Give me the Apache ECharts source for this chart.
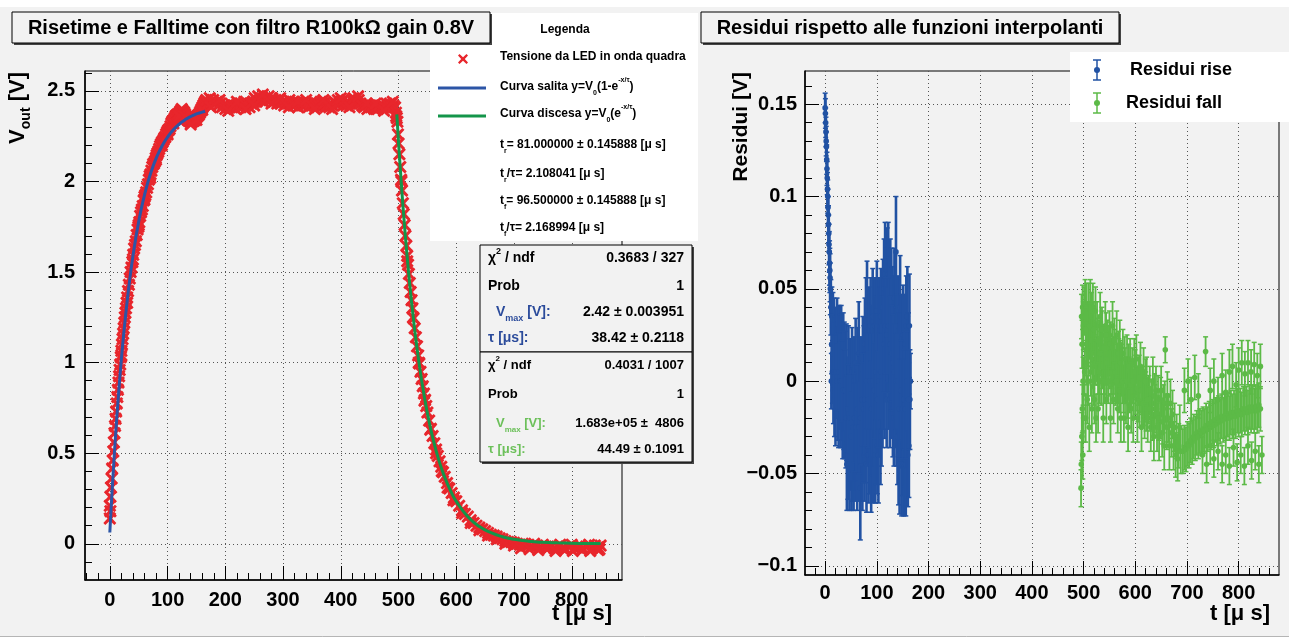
<!DOCTYPE html>
<html><head><meta charset="utf-8">
<script src="https://cdn.jsdelivr.net/npm/echarts@6/dist/echarts.min.js"></script>
<style>html,body{margin:0;padding:0;background:#f2f2f2}#c{width:1289px;height:643px}</style>
</head><body><div id="c"></div>
<script>
// ---------- DATA ----------
const xTicks = [0,100,200,300,400,500,600,700,800];
const yTicksLeft = [0,0.5,1,1.5,2,2.5];
const yTicksRight = [-0.1,-0.05,0,0.05,0.1,0.15];

// measured LED voltage [t (us), V]
const ledData = [
[0,0.14],[0,0.21],[1,0.18],[1,0.26],[2,0.31],[3,0.36],[4,0.415],[5,0.46],[6,0.51],[7,0.56],[8,0.61],[9,0.65],[10,0.69],[11,0.73],[12,0.775],[13,0.81],[14,0.85],[15,0.89],[16,0.925],[17,0.96],[18,0.99],[19,1.03],[20,1.065],[21,1.10],[22,1.13],[23,1.16],[24,1.19],[25,1.22],[26,1.25],[27,1.275],[28,1.30],[29,1.33],[30,1.36],[31.5,1.395],[33,1.43],[34.5,1.465],[36,1.50],[37.5,1.525],[39,1.555],[40.5,1.595],[42,1.63],[43.5,1.65],[45,1.67],[46.5,1.705],[48,1.735],[49.5,1.75],[51,1.775],[52.5,1.81],[54,1.83],[55.5,1.845],[57,1.865],[58.5,1.895],[60,1.915],[61.5,1.925],[63,1.94],[64.5,1.965],[66,1.985],[67.5,2.01],[69,2.03],[70.5,2.04],[72,2.06],[73.5,2.08],[75,2.095],[76.5,2.10],[78,2.11],[79.5,2.13],[81,2.145],[82.5,2.155],[84,2.165],[85.5,2.18],[87,2.195],[88.5,2.205],[90,2.215],[91.5,2.22],[93,2.23],[94.5,2.24],[96,2.245],[97.5,2.26],[99,2.27],[100.5,2.28],[102,2.285],[103.5,2.29],[105,2.305],[106.5,2.32],[108,2.33],[109.5,2.335],[111,2.34],[112.5,2.35],[114,2.36],[115.5,2.365],[117,2.37],[118.5,2.37],[120,2.375],[121.5,2.385],[123,2.39],[124.5,2.40],[126,2.39],[127.5,2.385],[129,2.38],[130.5,2.37],[132,2.355],[133.5,2.345],[135,2.34],[136.5,2.335],[138,2.335],[139.5,2.33],[141,2.33],[142.5,2.33],[144,2.335],[145.5,2.335],[147,2.34],[148.5,2.35],[150,2.355],[151.5,2.36],[153,2.365],[154.5,2.37],[156,2.38],[157.5,2.39],[159,2.40],[160.5,2.41],[162,2.42],[163.5,2.43],[165,2.44],
[20,1.04],[30,1.33],[40,1.57],[50,1.76],[60,1.90],[70,2.02],[80,2.12],[90,2.20],[100,2.26],[110,2.32],[120,2.36],[130,2.36],[140,2.315],[150,2.34],[160,2.395],
[167,2.45],[170,2.43],[173,2.46],[176,2.44],[179,2.45],[182,2.43],[185,2.44],[188,2.42],[191,2.43],[194,2.41],[197,2.42],[200,2.40],[203,2.42],[206,2.41],[209,2.43],[212,2.41],[215,2.42],[218,2.40],[221,2.42],[224,2.41],[227,2.43],[230,2.42],[233,2.44],[236,2.42],[239,2.43],[242,2.41],[245,2.43],[248,2.44],[251,2.46],[254,2.44],[257,2.47],[260,2.45],[263,2.46],[266,2.44],[269,2.46],[272,2.45],[275,2.47],[278,2.45],[281,2.46],[284,2.44],[287,2.45],[290,2.43],[293,2.45],[296,2.43],[299,2.44],[302,2.42],[305,2.44],[308,2.43],[311,2.45],[314,2.43],[317,2.44],[320,2.42],[323,2.43],[326,2.41],[329,2.43],[332,2.42],[335,2.44],[338,2.42],[341,2.43],[344,2.41],[347,2.43],[350,2.42],[353,2.44],[356,2.42],[359,2.43],[362,2.42],[365,2.44],[368,2.42],[371,2.43],[374,2.41],[377,2.42],[380,2.41],[383,2.43],[386,2.42],[389,2.44],[392,2.43],[395,2.45],[398,2.43],[401,2.44],[404,2.42],[407,2.43],[410,2.42],[413,2.44],[416,2.43],[419,2.45],[422,2.46],[425,2.44],[428,2.43],[431,2.45],[434,2.43],[437,2.42],[440,2.41],[443,2.42],[446,2.40],[449,2.42],[452,2.41],[455,2.42],[458,2.40],[461,2.41],[464,2.40],[467,2.42],[470,2.41],[473,2.42],[476,2.41],[479,2.43],[482,2.42],[485,2.43],[488,2.41],[491,2.42],[494,2.41],
[175,2.41],[190,2.45],[205,2.39],[220,2.44],[235,2.40],[250,2.42],[265,2.48],[280,2.43],[295,2.46],[310,2.41],[325,2.44],[340,2.45],[355,2.40],[370,2.45],[385,2.40],[400,2.46],[415,2.41],[430,2.47],[445,2.43],[460,2.43],[475,2.39],[490,2.44],
[495.5,2.38],[496,2.36],[497,2.35],[498,2.33],[499,2.26],[500,2.21],[501.5,2.15],[503,2.08],[504.5,2.01],[506,1.95],[507.5,1.88],[509,1.82],[510.5,1.76],[512,1.70],[513.5,1.645],[515,1.59],[516.5,1.54],[518,1.49],[519.5,1.44],[521,1.39],[522.5,1.345],[524,1.30],[526,1.245],[528,1.19],[530,1.14],[532,1.09],[534,1.04],[536,0.995],[538,0.95],[540,0.91],[542,0.87],[544,0.83],[546,0.795],[548,0.76],[550,0.725],[553,0.68],[556,0.635],[559,0.595],[562,0.555],[565,0.52],[568,0.485],[571,0.455],[574,0.425],[577,0.395],[580,0.37],[584,0.335],[588,0.305],[592,0.28],[596,0.255],[600,0.235],[605,0.21],[610,0.185],[615,0.165],[620,0.15],[625,0.13],[630,0.115],[635,0.10],[640,0.09],[645,0.08],[650,0.07],[655,0.06],[660,0.05],[665,0.045],[670,0.04],[675,0.03],[680,0.025],[685,0.015],[690,0.01],[695,0.01],[700,0.005],
[505,2.00],[515,1.56],[525,1.25],[535,1.00],[545,0.79],[555,0.63],[565,0.50],[575,0.40],[585,0.31],[595,0.24],[610,0.17],[625,0.115],[640,0.075],[655,0.045],[670,0.025],[685,0.0],[700,-0.01],
[705,0.0],[710,-0.005],[715,0.0],[720,-0.01],[725,-0.005],[730,-0.015],[735,0.0],[740,-0.01],[745,-0.02],[750,-0.005],[755,-0.015],[760,-0.02],[765,-0.01],[770,-0.025],[775,-0.015],[780,-0.005],[785,-0.02],[790,-0.03],[795,-0.015],[800,-0.005],[805,-0.025],[810,-0.02],[815,-0.01],[820,-0.03],[825,-0.015],[830,-0.005],[835,-0.025],[840,-0.01],[845,-0.02],[848,-0.03],[850,-0.01],
[712,-0.025],[727,-0.03],[742,-0.035],[757,-0.03],[772,-0.04],[787,-0.035],[802,-0.04],[817,-0.035],[832,-0.04],[846,-0.035]
];

// rise fit curve
const riseFit = [[0,0.062],[2.5,0.211],[5,0.350],[7.5,0.480],[10,0.603],[15,0.824],[20,1.019],[25,1.190],[30,1.340],[35,1.472],[40,1.588],[45,1.689],[50,1.778],[55,1.857],[60,1.925],[65,1.986],[70,2.039],[75,2.085],[80,2.126],[85,2.162],[90,2.193],[95,2.221],[100,2.245],[105,2.267],[110,2.285],[115,2.302],[120,2.316],[125,2.329],[130,2.340],[135,2.350],[140,2.358],[145,2.366],[150,2.373],[155,2.378],[160,2.383],[165,2.388]];

// fall fit curve
const fallFit = [[497,2.371],[500,2.216],[505,1.981],[510,1.770],[515,1.582],[520,1.414],[525,1.264],[530,1.129],[540,0.902],[550,0.720],[560,0.575],[570,0.459],[580,0.367],[590,0.293],[600,0.234],[620,0.149],[640,0.095],[660,0.061],[680,0.039],[700,0.025],[725,0.014],[750,0.008],[775,0.005],[800,0.003],[825,0.0015],[850,0.001]];

// residuals of rise: [t, residual, error]
const riseRes = [
[0,0.148,0.008],[0.5,0.145,0.008],[1,0.14,0.008],[1.5,0.135,0.008],[2,0.13,0.008],[2.5,0.127,0.008],[3,0.12,0.008],[3.5,0.115,0.009],[4,0.11,0.009],[4.5,0.104,0.009],[5,0.1,0.009],[5.5,0.094,0.01],[6,0.09,0.01],[6.5,0.085,0.01],[7,0.08,0.01],[7.5,0.074,0.011],[8,0.07,0.011],[8.5,0.064,0.012],[9,0.06,0.012],[9.5,0.056,0.013],[10,0.05,0.014],
[11,0.04,0.015],[12,0.0,0.015],[13,0.035,0.016],[14,0.005,0.017],[15,0.03,0.018],[16,-0.005,0.018],
[17,0.025,0.02],[18,-0.01,0.02],[19,0.015,0.02],[20,-0.015,0.02],[21,0.02,0.02],[22,0.0,0.02],[23,0.025,0.02],[24,-0.012,0.02],[25,0.01,0.02],[26,-0.015,0.021],[27,0.02,0.021],[28,-0.005,0.021],[29,0.015,0.021],[30,-0.015,0.021],[31,0.02,0.021],[32,-0.01,0.022],[33,0.005,0.022],[34,-0.02,0.022],[35,0.015,0.022],[36,-0.015,0.022],[37,0.01,0.022],[38,-0.02,0.022],[39,0.005,0.022],[40,-0.025,0.022],
[41,0.008,0.023],[42,-0.045,0.025],[43,-0.01,0.023],[44,-0.04,0.024],[45,0.005,0.025],[46,-0.03,0.023],[47,-0.045,0.025],[48,0.0,0.023],[49,-0.035,0.024],[50,-0.02,0.023],[51,-0.045,0.025],[52,0.005,0.024],[53,-0.04,0.025],[54,-0.015,0.023],[55,-0.045,0.025],[56,0.0,0.024],[57,-0.03,0.024],[58,-0.04,0.025],[59,0.01,0.024],[60,-0.035,0.024],[61,-0.02,0.024],[62,-0.045,0.025],[63,0.005,0.024],[64,-0.03,0.024],[65,0.015,0.028],[66,-0.04,0.025],[67,-0.01,0.024],[68,-0.058,0.028],[69,0.0,0.024],[70,-0.04,0.025],[71,-0.02,0.024],[72,-0.045,0.025],[73,0.01,0.025],[74,-0.03,0.025],[75,0.005,0.025],
[76,-0.04,0.025],[77,0.02,0.025],[78,-0.03,0.025],[79,0.03,0.026],[80,-0.045,0.026],[81,0.038,0.027],[82,-0.02,0.025],[83,0.01,0.025],[84,-0.04,0.026],[85,0.025,0.026],[86,-0.035,0.026],[87,0.0,0.025],[88,0.03,0.026],[89,-0.045,0.026],[90,0.015,0.026],[91,-0.025,0.026],[92,0.035,0.026],[93,-0.04,0.026],[94,0.005,0.026],[95,-0.02,0.026],[96,0.03,0.026],[97,-0.04,0.026],[98,0.02,0.026],[99,-0.03,0.026],[100,0.038,0.027],[101,-0.035,0.026],[102,0.01,0.026],[103,-0.04,0.026],[104,0.03,0.026],[105,-0.015,0.026],[106,0.025,0.026],[107,-0.03,0.026],[108,0.035,0.026],[109,-0.02,0.026],[110,0.02,0.026],
[111,-0.01,0.026],[112,0.04,0.026],[113,0.0,0.026],[114,0.05,0.027],[115,-0.005,0.026],[116,0.058,0.028],[117,0.015,0.026],[118,0.045,0.027],[119,-0.01,0.026],[120,0.055,0.028],[121,0.02,0.026],[122,0.058,0.028],[123,0.0,0.026],[124,0.04,0.027],[125,-0.01,0.026],[126,0.05,0.027],[127,0.01,0.026],[128,0.045,0.027],[129,-0.005,0.026],[130,0.035,0.027],[131,-0.015,0.026],[132,0.03,0.027],[133,-0.02,0.026],[134,0.045,0.027],[135,-0.01,0.026],[136,0.025,0.027],[137,0.07,0.03],[138,-0.02,0.026],[139,0.02,0.027],[140,-0.03,0.026],
[141,0.03,0.027],[142,-0.04,0.027],[143,0.01,0.027],[144,-0.045,0.027],[145,0.04,0.028],[146,-0.02,0.027],[147,0.02,0.027],[148,-0.045,0.028],[149,0.01,0.027],[150,-0.035,0.027],[151,0.025,0.027],[152,-0.045,0.028],[153,0.0,0.027],[154,-0.03,0.027],[155,0.02,0.027],[156,-0.045,0.028],[157,0.03,0.027],[158,-0.02,0.027],[159,0.035,0.027],[160,-0.04,0.028],[161,0.01,0.027],[162,-0.035,0.028],[163,0.03,0.028],[164,-0.01,0.027],[165,0.0,0.015],
[12.5,0.02,0.016],[14.5,0.015,0.017],[17.5,0.005,0.02],[20.5,0.005,0.02],[23.5,0.0,0.02],[26.5,0.005,0.021],[29.5,0.0,0.021],[32.5,0.0,0.022],[35.5,-0.005,0.022],[38.5,-0.005,0.022],[41.5,-0.02,0.023],[44.5,-0.015,0.024],[47.5,-0.02,0.024],[50.5,-0.03,0.024],[53.5,-0.025,0.024],[56.5,-0.02,0.024],[59.5,-0.025,0.024],[62.5,-0.015,0.024],[65.5,-0.025,0.025],[68.5,-0.02,0.025],[71.5,-0.01,0.025],[74.5,-0.015,0.025],[77.5,-0.01,0.025],[80.5,0.0,0.026],[83.5,-0.01,0.026],[86.5,0.0,0.026],[89.5,-0.015,0.026],[92.5,0.0,0.026],[95.5,-0.005,0.026],[98.5,0.005,0.026],[101.5,-0.01,0.026],[104.5,0.0,0.026],[107.5,0.005,0.026],[110.5,0.0,0.026],[113.5,0.02,0.026],[116.5,0.03,0.026],[119.5,0.025,0.026],[122.5,0.03,0.026],[125.5,0.02,0.026],[128.5,0.015,0.026],[131.5,0.01,0.026],[134.5,0.005,0.026],[137.5,0.0,0.026],[140.5,0.0,0.026],[143.5,-0.015,0.027],[146.5,-0.005,0.027],[149.5,-0.015,0.027],[152.5,-0.01,0.027],[155.5,-0.015,0.027],[158.5,0.0,0.027],[161.5,-0.01,0.027]
];

// residuals of fall: [t, residual, error]
const fallRes = [
[495,-0.058,0.01],[495.5,-0.045,0.012],[496,0.035,0.012],[496.5,-0.03,0.013],[497,0.02,0.013],[497.5,-0.015,0.013],[498,0.04,0.012],[498.5,-0.04,0.013],[499,0.0,0.013],[499.5,0.03,0.013],[500,-0.02,0.013],[501,0.038,0.013],[502,0.005,0.013],
[503,0.042,0.013],[504,-0.02,0.013],[505,0.02,0.013],[506,0.04,0.013],[507,-0.01,0.013],[508,0.03,0.013],[509,0.0,0.013],[510,0.04,0.013],[511,-0.025,0.013],[512,0.025,0.013],[513,0.042,0.013],[514,0.005,0.013],[515,0.035,0.013],[516,-0.015,0.013],[517,0.02,0.013],[518,0.04,0.013],[519,0.0,0.013],[520,0.03,0.013],[521,-0.01,0.013],[522,0.015,0.013],[523,0.038,0.013],[524,-0.02,0.013],
[526,0.03,0.013],[527,0.01,0.012],[528,-0.015,0.013],[530,0.02,0.013],[531,0.0,0.012],[532,0.035,0.013],[534,0.0,0.013],[535,0.012,0.012],[536,0.025,0.013],[538,-0.02,0.013],[539,0.005,0.012],[540,0.015,0.013],[542,0.03,0.013],[543,0.01,0.012],[544,-0.01,0.013],[546,0.02,0.013],[547,0.015,0.012],[548,0.005,0.013],[550,0.025,0.013],[551,0.008,0.012],[552,-0.02,0.013],[554,0.01,0.013],[555,0.0,0.012],[556,0.03,0.013],[558,-0.01,0.013],[559,0.01,0.012],[560,0.015,0.013],[562,0.0,0.013],[563,0.012,0.012],[564,0.025,0.013],[566,-0.015,0.013],[567,0.0,0.012],[568,0.01,0.013],[570,0.02,0.013],[571,0.005,0.012],[572,-0.02,0.013],[574,0.005,0.013],
[576,0.015,0.013],[578,-0.02,0.013],[580,0.005,0.013],[582,-0.01,0.013],[584,0.012,0.013],[586,-0.025,0.013],[588,0.0,0.013],[590,0.01,0.013],[592,-0.015,0.013],[594,0.005,0.013],[596,-0.02,0.013],[598,0.01,0.013],[600,-0.005,0.013],[602,0.012,0.013],[604,-0.02,0.013],[606,0.0,0.013],[608,-0.012,0.013],[610,0.008,0.013],[612,-0.025,0.013],[614,-0.005,0.013],[616,0.005,0.013],[618,-0.018,0.013],[620,-0.008,0.013],[622,0.0,0.013],[624,-0.02,0.013],[626,-0.01,0.013],
[628,-0.005,0.013],[630,-0.025,0.013],[632,-0.012,0.013],[634,0.0,0.013],[636,-0.03,0.013],[638,-0.015,0.013],[640,-0.005,0.013],[642,-0.025,0.013],[644,-0.01,0.013],[646,-0.03,0.013],[648,-0.018,0.013],[650,-0.005,0.013],[652,-0.028,0.013],[654,-0.015,0.013],[656,-0.035,0.013],[658,0.017,0.007],[660,-0.02,0.013],[662,-0.008,0.013],
[664,-0.02,0.013],[666,-0.035,0.013],[668,-0.012,0.013],[670,-0.028,0.013],[672,-0.018,0.013],[674,-0.035,0.013],[676,-0.025,0.013],[678,-0.04,0.012],[680,-0.03,0.012],[682,-0.042,0.012],[684,-0.035,0.012],[686,-0.025,0.012],[688,-0.038,0.012],
[692,-0.038,0.012],[695,-0.036,0.012],[698,-0.037,0.012],[701,-0.034,0.012],[704,-0.035,0.012],[707,-0.032,0.012],[710,-0.033,0.012],[713,-0.030,0.012],[716,-0.031,0.012],[719,-0.028,0.012],[722,-0.030,0.012],[725,-0.027,0.012],[728,-0.028,0.012],[731,-0.026,0.012],[734,-0.027,0.012],[737,-0.024,0.012],[740,-0.026,0.012],[743,-0.023,0.012],[746,-0.025,0.012],[749,-0.022,0.012],[752,-0.024,0.012],[755,-0.021,0.012],[758,-0.023,0.012],[761,-0.020,0.012],[764,-0.022,0.012],[767,-0.019,0.012],[770,-0.021,0.012],[773,-0.019,0.012],[776,-0.020,0.012],[779,-0.018,0.012],[782,-0.020,0.012],[785,-0.017,0.012],[788,-0.019,0.012],[791,-0.017,0.012],[794,-0.019,0.012],[797,-0.016,0.012],[800,-0.018,0.012],[803,-0.016,0.012],[806,-0.018,0.012],[809,-0.015,0.012],[812,-0.017,0.012],[815,-0.015,0.012],[818,-0.017,0.012],[821,-0.014,0.012],[824,-0.016,0.012],[827,-0.014,0.012],[830,-0.016,0.012],[833,-0.014,0.012],[836,-0.016,0.012],[839,-0.013,0.012],[842,-0.015,0.012],
[695,-0.005,0.012],[702,0.0,0.012],[708,-0.01,0.012],[715,0.002,0.012],[722,-0.008,0.012],[736,0.016,0.008],[745,-0.005,0.012],[752,0.0,0.012],[760,-0.01,0.012],[768,0.003,0.012],[775,-0.006,0.012],[782,0.005,0.012],[788,0.008,0.012],[795,-0.002,0.012],[800,0.006,0.012],[806,0.01,0.012],[812,0.004,0.012],[818,0.01,0.012],[824,0.005,0.012],[830,0.009,0.012],[836,0.003,0.012],[842,0.008,0.012],
[730,-0.04,0.01],[738,-0.045,0.01],[745,-0.035,0.01],[752,-0.042,0.01],[760,-0.038,0.01],[768,-0.045,0.01],[775,-0.04,0.01],[782,-0.046,0.01],[790,-0.036,0.01],[797,-0.044,0.01],[804,-0.04,0.01],[811,-0.046,0.01],[818,-0.035,0.01],[825,-0.043,0.01],[832,-0.038,0.01],[839,-0.045,0.01],[845,-0.04,0.01],
[505.5,0.01,0.012],[509.5,0.015,0.012],[513.5,0.02,0.012],[517.5,0.008,0.012],[521.5,0.02,0.012],[525,0.012,0.012],[529,0.005,0.012],[533,0.02,0.012],[537,0.008,0.012],[541,0.0,0.012],[545,0.01,0.012],[549,0.018,0.012],[553,0.005,0.012],[557,0.012,0.012],[561,0.005,0.012],[565,0.008,0.012],[569,-0.005,0.012],[573,0.008,0.012],[577,-0.005,0.012],[581,0.0,0.012],[585,-0.008,0.012],[589,-0.005,0.012],[593,0.0,0.012],[597,-0.008,0.012],[601,0.002,0.012],[605,-0.01,0.012],[609,-0.005,0.012],[613,-0.012,0.012],[617,-0.008,0.012],[621,-0.015,0.012],
[504.5,0.028,0.012],[507.5,0.02,0.012],[511.5,0.03,0.012],[515.5,0.022,0.012],[519.5,0.028,0.012],[523.5,0.01,0.012],[527.5,0.022,0.012],[531.5,0.015,0.012],[535.5,0.028,0.012],[539.5,0.018,0.012],[543.5,0.025,0.012],[547.5,0.0,0.012],[551.5,0.02,0.012],[555.5,0.018,0.012],[559.5,0.022,0.012],[563.5,0.0,0.012],[567.5,0.015,0.012],[571.5,0.01,0.012],[575.5,0.0,0.012],[579.5,0.012,0.012],[583.5,0.0,0.012],[587.5,0.008,0.012],[591.5,-0.002,0.012],[595.5,0.0,0.012],[599.5,0.005,0.012],[603.5,-0.004,0.012],[607.5,0.002,0.012],[611.5,-0.005,0.012],[615.5,-0.012,0.012],[619.5,0.0,0.012],[623.5,-0.01,0.012],[629,-0.015,0.012],[633,-0.02,0.012],[637,-0.008,0.012],[641,-0.018,0.012],[645,-0.02,0.012],[649,-0.01,0.012],[653,-0.022,0.012],[657,-0.012,0.012],[661,-0.025,0.012]
];

// ---------- STYLE ----------
const FONT = 'Liberation Sans, Arial, Helvetica, sans-serif';
const RED = '#e8262c', BLUE_FIT = '#2c55a6', GREEN_FIT = '#14954a';
const BLUE_RES = '#2152a3', GREEN_RES = '#5cba47';
const BG = '#f2f2f2';

function minorOf(major, step, sub, lo, hi){
  const out = [];
  for (let v = major[0] - step; v <= major[major.length-1] + step + 1e-9; v += step/sub){
    const r = Math.round(v*1e6)/1e6;
    if (r > lo && r < hi && major.every(m => Math.abs(m - r) > 1e-9)) out.push(r);
  }
  return out;
}

const L = {xmin:-43, xmax:887, ymin:-0.2, ymax:2.61};
const R = {xmin:-39, xmax:878, ymin:-0.105, ymax:0.168};

const tickLabel = {fontFamily: FONT, fontWeight:'bold', fontSize:20, color:'#000'};
const minusFmt = v => (v < 0 ? '\u2212' : '') + String(Math.abs(v));

function mainX(gi, r, margin){ return {
  gridIndex: gi, type:'value', min:r.xmin, max:r.xmax, splitNumber:9, position:'bottom',
  axisLine:{show:true, onZero:false, lineStyle:{color:'#000', width:1.5}},
  axisTick:{show:true, inside:true, length:14, customValues:xTicks, lineStyle:{color:'#000', width:1}},
  axisLabel:Object.assign({margin:margin, customValues:xTicks}, tickLabel),
  splitLine:{show:true, lineStyle:{color:'#555', type:[1,3], width:1}}
};}
function minorX(gi, r){ return {
  gridIndex: gi, type:'value', min:r.xmin, max:r.xmax, position:'bottom',
  axisLine:{show:false, onZero:false}, axisLabel:{show:false}, splitLine:{show:false},
  axisTick:{show:true, inside:true, length:7, customValues:minorOf(xTicks,100,5,r.xmin,r.xmax), lineStyle:{color:'#000', width:1}}
};}
function mainY(gi, r, ticks, margin, fmt){ return {
  gridIndex: gi, type:'value', min:r.ymin, max:r.ymax, position:'left',
  axisLine:{show:true, onZero:false, lineStyle:{color:'#000', width:1.5}},
  axisTick:{show:true, inside:true, length:14, customValues:ticks, lineStyle:{color:'#000', width:1}},
  axisLabel:Object.assign({margin:margin, customValues:ticks, formatter:fmt}, tickLabel),
  splitLine:{show:true, lineStyle:{color:'#555', type:[1,3], width:1}}
};}
function minorY(gi, r, ticks, step){ return {
  gridIndex: gi, type:'value', min:r.ymin, max:r.ymax, position:'left',
  axisLine:{show:false, onZero:false}, axisLabel:{show:false}, splitLine:{show:false},
  axisTick:{show:true, inside:true, length:7, customValues:minorOf(ticks,step,5,r.ymin,r.ymax), lineStyle:{color:'#000', width:1}}
};}

function errRender(color, lw){
  return function(params, api){
    const t = api.value(0), r = api.value(1), e = api.value(2);
    const p = api.coord([t, r]);
    const pt = api.coord([t, r + e]);
    const pb = api.coord([t, r - e]);
    const cw = 2.5, st = {stroke: color, lineWidth: lw};
    return {type:'group', children:[
      {type:'line', shape:{x1:p[0], y1:pt[1], x2:p[0], y2:pb[1]}, style:st},
      {type:'line', shape:{x1:p[0]-cw, y1:pt[1], x2:p[0]+cw, y2:pt[1]}, style:{stroke:color, lineWidth:1.5}},
      {type:'line', shape:{x1:p[0]-cw, y1:pb[1], x2:p[0]+cw, y2:pb[1]}, style:{stroke:color, lineWidth:1.5}},
      {type:'circle', shape:{cx:p[0], cy:p[1], r:2.8}, style:{fill: color}}
    ]};
  };
}

const XPATH = 'path://M0,1.5 L1.5,0 L5,3.2 L8.5,0 L10,1.5 L6.8,5 L10,8.5 L8.5,10 L5,6.8 L1.5,10 L0,8.5 L3.2,5 Z';

// ---------- TEXT HELPERS ----------
function txt(x, y, text, opt){
  opt = opt || {};
  const st = {
    text:text, fill: opt.color || '#000', fontFamily: FONT, fontWeight: opt.weight || 'bold',
    fontSize: opt.size || 12, align: opt.align || 'left', verticalAlign: opt.va || 'middle',
    textAlign: opt.align || 'left', textVerticalAlign: opt.va || 'middle'
  };
  if (opt.rich) st.rich = opt.rich;
  return {type:'text', x:x, y:y, z:100, rotation: opt.rot || 0, style: st};
}
function richSet(size, color){
  return {
    n:{fontFamily:FONT, fontWeight:'bold', fontSize:size, fill:color, lineHeight:size+8, verticalAlign:'middle'},
    sub:{fontFamily:FONT, fontWeight:'bold', fontSize:Math.round(size*0.62), fill:color, lineHeight:size+8, verticalAlign:'bottom'},
    sup:{fontFamily:FONT, fontWeight:'bold', fontSize:Math.round(size*0.62), fill:color, lineHeight:size+8, verticalAlign:'top'}
  };
}
function rect(x,y,w,h,fill,stroke,z){
  const st = {fill:fill, lineWidth:1};
  if (stroke) st.stroke = stroke;
  return {type:'rect', z:z||90, shape:{x:x,y:y,width:w,height:h}, style:st};
}
function shadowBox(x,y,w,h,fill,z){
  return [rect(x+2,y+2,w,h,'#444',null,z), rect(x,y,w,h,fill,'#000',z)];
}
function xMarker(cx, cy, color){
  const pts = [[0,1.5],[1.5,0],[5,3.2],[8.5,0],[10,1.5],[6.8,5],[10,8.5],[8.5,10],[5,6.8],[1.5,10],[0,8.5],[3.2,5]].map(p=>[cx-5+p[0], cy-5+p[1]]);
  return {type:'polygon', z:100, shape:{points:pts}, style:{fill:color}};
}

const graphics = [];
graphics.push(rect(0,0,1289,7,'#ffffff',null,1));
graphics.push(rect(0,637,1289,6,'#ffffff',null,1));
graphics.push({type:'line', z:2, shape:{x1:0,y1:636.5,x2:1289,y2:636.5}, style:{stroke:'#b5b5b5', lineWidth:1}});

// left legend
graphics.push(rect(430,13,268,228,'#ffffff',null,80));
graphics.push(txt(565,30,'Legenda',{size:12, align:'center'}));
graphics.push(xMarker(463,59,RED));
graphics.push(txt(500,57,'Tensione da LED in onda quadra',{size:12}));
graphics.push({type:'line', z:100, shape:{x1:438,y1:88,x2:486,y2:88}, style:{stroke:BLUE_FIT, lineWidth:3}});
graphics.push({type:'line', z:100, shape:{x1:438,y1:116,x2:486,y2:116}, style:{stroke:GREEN_FIT, lineWidth:3}});
const r12 = richSet(12,'#000');
graphics.push(txt(500,87,'{n|Curva salita y=V}{sub|0}{n|(1-e}{sup|-x/\u03c4}{n|)}',{rich:r12}));
graphics.push(txt(500,114,'{n|Curva discesa y=V}{sub|0}{n|(e}{sup|-x/\u03c4}{n|)}',{rich:r12}));
graphics.push(txt(500,145,'{n|t}{sub|r}{n|= 81.000000 \u00b1 0.145888 [\u03bc s]}',{rich:r12}));
graphics.push(txt(500,174,'{n|t}{sub|r}{n|/\u03c4= 2.108041 [\u03bc s]}',{rich:r12}));
graphics.push(txt(500,201,'{n|t}{sub|f}{n|= 96.500000 \u00b1 0.145888 [\u03bc s]}',{rich:r12}));
graphics.push(txt(500,228,'{n|t}{sub|f}{n|/\u03c4= 2.168994 [\u03bc s]}',{rich:r12}));

// stats boxes
graphics.push(...shadowBox(480,245,212,107,BG,85));
graphics.push(...shadowBox(480,352,212,110,BG,86));
const SB = '#2b4b9b', SG = '#6cc05a';
const s14 = richSet(14,'#000'), s14b = richSet(14,SB);
graphics.push(txt(488,258,'{n|\u03c7}{sup|2}{n| / ndf}',{rich:s14}));
graphics.push(txt(684,258,'0.3683 / 327',{size:14, align:'right'}));
graphics.push(txt(488,286,'Prob',{size:14}));
graphics.push(txt(684,286,'1',{size:14, align:'right'}));
graphics.push(txt(496,312,'{n|V}{sub|max}{n| [V]:}',{rich:s14b}));
graphics.push(txt(684,312,'2.42 \u00b1 0.003951',{size:14, align:'right'}));
graphics.push(txt(488,338,'\u03c4 [\u03bcs]:',{size:14, color:SB}));
graphics.push(txt(684,338,'38.42 \u00b1 0.2118',{size:14, align:'right'}));
const s13 = richSet(13,'#000'), s13g = richSet(13,SG);
graphics.push(txt(488,365,'{n|\u03c7}{sup|2}{n| / ndf}',{rich:s13}));
graphics.push(txt(684,365,'0.4031 / 1007',{size:13, align:'right'}));
graphics.push(txt(488,394,'Prob',{size:13}));
graphics.push(txt(684,394,'1',{size:13, align:'right'}));
graphics.push(txt(496,423,'{n|V}{sub|max}{n| [V]:}',{rich:s13g}));
graphics.push(txt(684,423,'1.683e+05 \u00b1  4806',{size:13, align:'right'}));
graphics.push(txt(488,449,'\u03c4 [\u03bcs]:',{size:13, color:SG}));
graphics.push(txt(684,449,'44.49 \u00b1 0.1091',{size:13, align:'right'}));

// titles
graphics.push(...shadowBox(12,12,478,31,BG,95));
graphics.push(txt(251,28,'Risetime e Falltime con filtro R100k\u03a9 gain 0.8V',{size:20, align:'center'}));
graphics.push(...shadowBox(701,12,418,31,BG,95));
graphics.push(txt(910,28,'Residui rispetto alle funzioni interpolanti',{size:20, align:'center'}));

// right legend
graphics.push(rect(1070,52,219,70,'#ffffff',null,80));
function errIcon(x, y, color){
  return [
    {type:'line', z:100, shape:{x1:x,y1:y-10,x2:x,y2:y+10}, style:{stroke:color, lineWidth:1.5}},
    {type:'line', z:100, shape:{x1:x-4,y1:y-10,x2:x+4,y2:y-10}, style:{stroke:color, lineWidth:1.5}},
    {type:'line', z:100, shape:{x1:x-4,y1:y+10,x2:x+4,y2:y+10}, style:{stroke:color, lineWidth:1.5}},
    {type:'circle', z:100, shape:{cx:x,cy:y,r:3}, style:{fill:color}}
  ];
}
graphics.push(...errIcon(1097,70,BLUE_RES));
graphics.push(...errIcon(1097,103,GREEN_RES));
graphics.push(txt(1130,70,'Residui rise',{size:18}));
graphics.push(txt(1126,103,'Residui fall',{size:18}));

// axis titles
const r22 = {
  n:{fontFamily:FONT, fontWeight:'bold', fontSize:22, fill:'#000', lineHeight:30, verticalAlign:'middle'},
  sub:{fontFamily:FONT, fontWeight:'bold', fontSize:14, fill:'#000', lineHeight:30, verticalAlign:'bottom'}
};
graphics.push(txt(18,72,'{n|V}{sub|out}{n| [V]}',{rot:Math.PI/2, align:'right', rich:r22}));
graphics.push(txt(741,72,'Residui [V]',{rot:Math.PI/2, align:'right', size:21}));
graphics.push(txt(612,614,'t [\u03bc s]',{align:'right', size:22}));
graphics.push(txt(1270,614,'t [\u03bc s]',{align:'right', size:22}));

const option = {
  animation:false,
  backgroundColor: BG,
  grid:[
    {left:85, top:71, width:537, height:509, show:true, backgroundColor:BG, borderColor:'#000', borderWidth:1},
    {left:805, top:71, width:474, height:504, show:true, backgroundColor:BG, borderColor:'#000', borderWidth:1}
  ],
  xAxis:[ mainX(0,L,10), minorX(0,L), mainX(1,R,8), minorX(1,R) ],
  yAxis:[ mainY(0,L,yTicksLeft,10,v=>String(v)), minorY(0,L,yTicksLeft,0.5),
          mainY(1,R,yTicksRight,8,minusFmt), minorY(1,R,yTicksRight,0.05) ],
  series:[
    {type:'scatter', xAxisIndex:0, yAxisIndex:0, data:ledData, symbol:XPATH, symbolSize:13, itemStyle:{color:RED, opacity:1}, z:3},
    {type:'line', xAxisIndex:0, yAxisIndex:0, data:riseFit, smooth:true, showSymbol:false, lineStyle:{color:BLUE_FIT, width:3}, z:4},
    {type:'line', xAxisIndex:0, yAxisIndex:0, data:fallFit, smooth:true, showSymbol:false, lineStyle:{color:GREEN_FIT, width:3}, z:4},
    {type:'custom', xAxisIndex:2, yAxisIndex:2, data:riseRes, renderItem:errRender(BLUE_RES,2.6), encode:{x:0, y:1}, z:3},
    {type:'custom', xAxisIndex:2, yAxisIndex:2, data:fallRes, renderItem:errRender(GREEN_RES,1.8), encode:{x:0, y:1}, z:3}
  ],
  graphic: graphics
};
const chart = echarts.init(document.getElementById('c'), null, {renderer:'canvas'});
chart.setOption(option);
</script></body></html>
